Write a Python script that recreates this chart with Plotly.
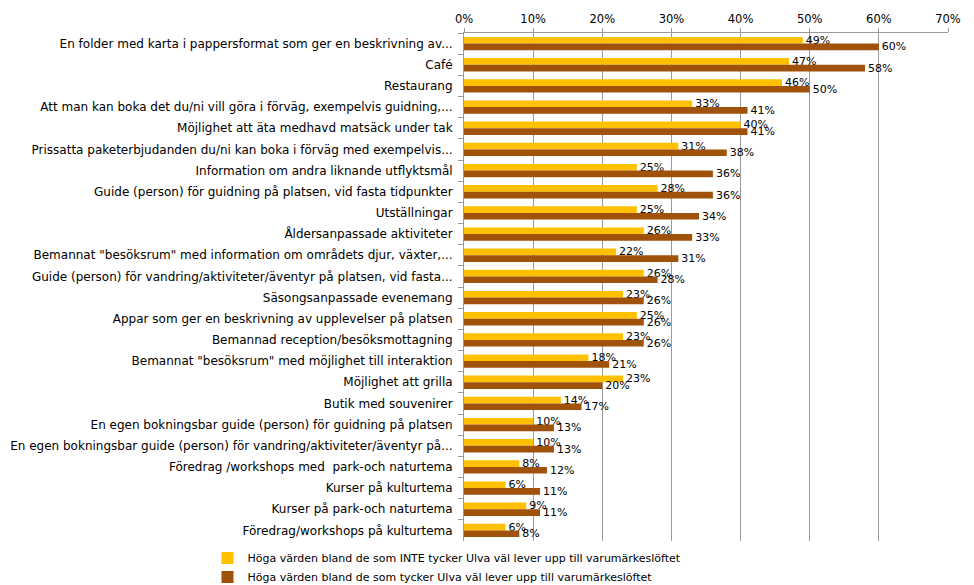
import plotly.graph_objects as go

categories = [
    "En folder med karta i pappersformat som ger en beskrivning av...",
    "Café",
    "Restaurang",
    "Att man kan boka det du/ni vill göra i förväg, exempelvis guidning,...",
    "Möjlighet att äta medhavd matsäck under tak",
    "Prissatta paketerbjudanden du/ni kan boka i förväg med exempelvis...",
    "Information om andra liknande utflyktsmål",
    "Guide (person) för guidning på platsen, vid fasta tidpunkter",
    "Utställningar",
    "Åldersanpassade aktiviteter",
    "Bemannat \"besöksrum\" med information om områdets djur, växter,...",
    "Guide (person) för vandring/aktiviteter/äventyr på platsen, vid fasta...",
    "Säsongsanpassade evenemang",
    "Appar som ger en beskrivning av upplevelser på platsen",
    "Bemannad reception/besöksmottagning",
    "Bemannat \"besöksrum\" med möjlighet till interaktion",
    "Möjlighet att grilla",
    "Butik med souvenirer",
    "En egen bokningsbar guide (person) för guidning på platsen",
    "En egen bokningsbar guide (person) för vandring/aktiviteter/äventyr på...",
    "Föredrag /workshops med  park-och naturtema",
    "Kurser på kulturtema",
    "Kurser på park-och naturtema",
    "Föredrag/workshops på kulturtema",
]

inte_values = [49, 47, 46, 33, 40, 31, 25, 28, 25, 26, 22, 26, 23, 25, 23, 18, 23, 14, 10, 10, 8, 6, 9, 6]
tycker_values = [60, 58, 50, 41, 41, 38, 36, 36, 34, 33, 31, 28, 26, 26, 26, 21, 20, 17, 13, 13, 12, 11, 11, 8]

series_names = [
    "Höga värden bland de som INTE tycker Ulva väl lever upp till varumärkeslöftet",
    "Höga värden bland de som tycker Ulva väl lever upp till varumärkeslöftet",
]

x_ticks = [0, 10, 20, 30, 40, 50, 60, 70]
x_tick_labels = [f"{v}%" for v in x_ticks]

font_family = "DejaVu Sans, Verdana, sans-serif"

fig = go.Figure()
for vals, name, color in [
    (inte_values, series_names[0], "#FFC000"),
    (tycker_values, series_names[1], "#A0520A"),
]:
    fig.add_trace(go.Bar(
        y=categories,
        x=vals,
        name=name,
        orientation="h",
        marker=dict(color=color, line=dict(width=0)),
        text=[f"{v}%" for v in vals],
        textposition="outside",
        textfont=dict(family=font_family, size=11, color="#000000"),
        cliponaxis=False,
        constraintext="none",
    ))

fig.update_layout(
    width=974,
    height=585,
    barmode="group",
    bargap=0.37,
    bargroupgap=0,
    plot_bgcolor="#FFFFFF",
    paper_bgcolor="#FFFFFF",
    font=dict(family=font_family, size=11, color="#000000"),
    margin=dict(l=456, r=34, t=25, b=52, autoexpand=False),
    legend=dict(
        orientation="v",
        x=-0.53,
        xanchor="left",
        y=-0.005,
        yanchor="top",
        font=dict(family=font_family, size=11, color="#000000"),
        itemwidth=30,
        tracegroupgap=0,
        bgcolor="rgba(0,0,0,0)",
    ),
    xaxis=dict(
        side="top",
        range=[0, 70],
        tickvals=x_ticks,
        ticktext=x_tick_labels,
        showgrid=True,
        gridcolor="#9A9A9A",
        gridwidth=1,
        showline=True,
        linecolor="#9A9A9A",
        ticks="outside",
        ticklen=4,
        tickcolor="#9A9A9A",
        zeroline=False,
        tickfont=dict(size=11.5),
    ),
    yaxis=dict(
        autorange="reversed",
        showline=True,
        linecolor="#9A9A9A",
        ticks="outside",
        tickson="boundaries",
        ticklen=5,
        tickcolor="#9A9A9A",
        showgrid=False,
        tickfont=dict(size=12),
        ticklabelstandoff=8,
        automargin=False,
    ),
)

fig.write_html("out.html")
